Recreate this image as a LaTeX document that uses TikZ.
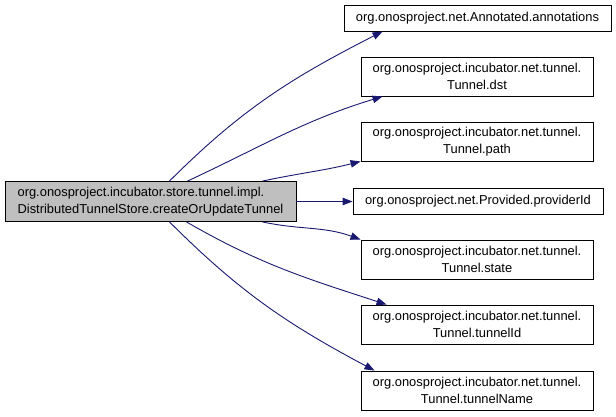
\documentclass[tikz,border=0pt]{standalone}
\usepackage{fontspec}
\setmainfont{Liberation Sans}
\usetikzlibrary{arrows.meta}
\definecolor{edgeblue}{RGB}{25,25,112}
\definecolor{nodegrey}{RGB}{191,191,191}
\tikzset{
  box/.style={draw=black, line width=0.9pt, fill=white, inner sep=0pt, align=center,
    font=\fontsize{12.9}{17}\selectfont},
  mainbox/.style={box, fill=nodegrey, align=left},
  twoline/.style={box, minimum width=232, minimum height=39},
  oneline/.style={box, minimum height=26},
  call/.style={draw=edgeblue, line width=0.9pt, -{Triangle[length=10pt,width=7.5pt]}}
}
\begin{document}
\begin{tikzpicture}[x=1pt,y=1pt]
\useasboundingbox (0,0) rectangle (616,416);
\node[mainbox, minimum width=291, minimum height=40] (L) at (150.5,214.5)
  {org.onosproject.incubator.store.tunnel.impl.\\DistributedTunnelStore.createOrUpdateTunnel};
\node[oneline, minimum width=267] (ann) at (477.5,398) {org.onosproject.net.Annotated.annotations};
\node[twoline] (dst) at (477,339.5) {org.onosproject.incubator.net.tunnel.\\Tunnel.dst};
\node[twoline] (path) at (477,274.5) {org.onosproject.incubator.net.tunnel.\\Tunnel.path};
\node[oneline, minimum width=250] (pid) at (478,214.5) {org.onosproject.net.Provided.providerId};
\node[twoline] (state) at (477,156.5) {org.onosproject.incubator.net.tunnel.\\Tunnel.state};
\node[twoline] (tid) at (477,91.5) {org.onosproject.incubator.net.tunnel.\\Tunnel.tunnelId};
\node[twoline] (tname) at (477,25.5) {org.onosproject.incubator.net.tunnel.\\Tunnel.tunnelName};

\draw[call] ([xshift=165pt]L.north west) to[out=45,in=207] ([xshift=39pt]ann.south west);
\draw[call] ([xshift=183pt]L.north west) to[out=25,in=197] ([xshift=22pt]dst.south west);
\draw[call] ([xshift=258pt]L.north west) to[out=12,in=194] (path.south west);
\draw[call] (L.east) -- (pid.west);
\draw[call] ([xshift=258pt]L.south west) to[out=-12,in=160] (state.north west);
\draw[call] ([xshift=182pt]L.south west) to[out=-30,in=162] ([xshift=26pt]tid.north west);
\draw[call] ([xshift=165pt]L.south west) to[out=-45,in=152] ([xshift=14pt]tname.north west);
\end{tikzpicture}
\end{document}
